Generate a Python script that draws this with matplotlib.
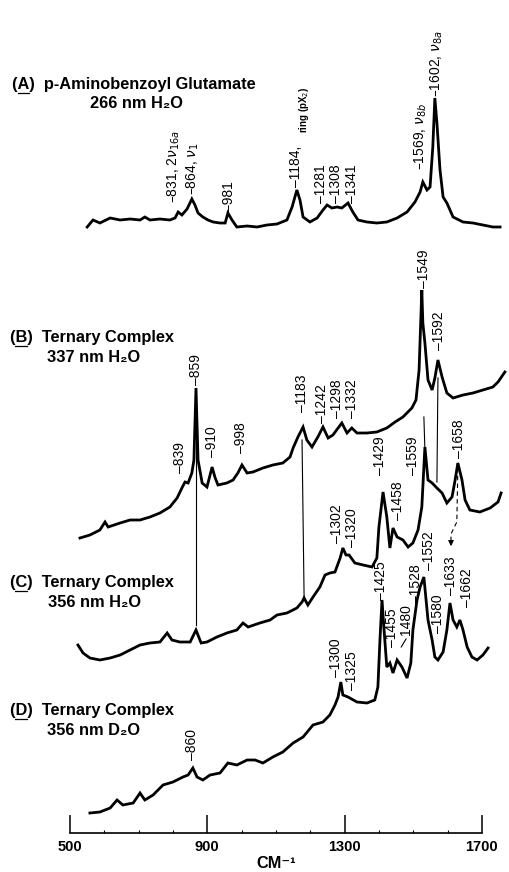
import matplotlib
matplotlib.use('Agg')
import matplotlib.pyplot as plt

# Resonance Raman spectra, wavenumber (cm-1) vs relative intensity
a_cm = [550, 567, 587, 617, 646, 675, 704, 718, 733, 762, 791, 806, 815, 826, 841, 855, 864, 873,
        887, 902, 917, 937, 952, 960, 972, 986, 1016, 1045, 1074, 1103, 1132, 1147, 1161, 1170,
        1179, 1199, 1220, 1237, 1249, 1263, 1278, 1292, 1310, 1324, 1339, 1365, 1394, 1423, 1453,
        1482, 1505, 1520, 1528, 1540, 1549, 1557, 1563, 1569, 1578, 1587, 1598, 1616, 1645, 1674,
        1703, 1732, 1753]
a_int = [0, 7, 4, 9, 7, 8, 7, 10, 7, 8, 7, 9, 15, 12, 18, 28, 22, 14,
         10, 7, 5, 4, 4, 14, 7, 0, 1, 0, 2, 3, 7, 20, 37, 27,
         10, 5, 9, 17, 22, 19, 20, 19, 24, 15, 7, 5, 4, 5, 9,
         15, 25, 35, 45, 37, 40, 80, 129, 104, 57, 30, 24, 10, 5, 4,
         2, 0, 0]

b_cm = [529, 558, 587, 602, 611, 646, 675, 704, 733, 762, 791, 812, 826, 835, 844, 855, 861, 867,
        873, 885, 899, 914, 922, 931, 957, 975, 989, 1001, 1016, 1033, 1062, 1091, 1120, 1141,
        1150, 1164, 1179, 1190, 1205, 1222, 1237, 1252, 1266, 1281, 1292, 1307, 1321, 1336, 1365,
        1394, 1423, 1447, 1470, 1496, 1508, 1517, 1525, 1528, 1534, 1543, 1555, 1563, 1572, 1584,
        1598, 1616, 1645, 1674, 1703, 1732, 1747, 1767]
b_int = [0, 3, 8, 16, 11, 15, 18, 18, 21, 25, 31, 40, 50, 56, 55, 65, 78, 150,
         78, 55, 51, 71, 61, 53, 55, 58, 65, 73, 65, 66, 70, 73, 75, 81,
         90, 101, 111, 98, 91, 101, 111, 100, 103, 110, 115, 105, 110, 105, 105,
         106, 110, 116, 121, 130, 138, 168, 248, 215, 195, 158, 148, 160, 178, 161,
         145, 140, 143, 145, 148, 151, 156, 166]

c_cm = [523, 538, 558, 587, 617, 646, 675, 704, 733, 762, 783, 797, 820, 850, 867, 882, 899, 928,
        957, 986, 1004, 1019, 1053, 1083, 1103, 1132, 1161, 1176, 1182, 1193, 1208, 1228, 1243,
        1257, 1272, 1287, 1295, 1304, 1313, 1330, 1354, 1380, 1394, 1400, 1412, 1423, 1432, 1441,
        1453, 1470, 1485, 1499, 1514, 1525, 1534, 1543, 1555, 1569, 1584, 1598, 1613, 1622, 1630,
        1642, 1651, 1665, 1694, 1724, 1747, 1756]
c_int = [15, 7, 2, 0, 2, 5, 10, 15, 17, 18, 27, 20, 18, 18, 30, 17, 18, 23,
         27, 30, 37, 33, 37, 40, 45, 47, 52, 58, 62, 55, 63, 73, 85,
         87, 88, 102, 112, 105, 105, 97, 95, 93, 102, 133, 168, 143, 112, 132,
         123, 120, 113, 117, 130, 153, 213, 180, 177, 172, 167, 157, 163, 180, 197,
         180, 160, 150, 148, 152, 158, 167]

d_cm = [558, 587, 617, 637, 654, 684, 704, 718, 742, 771, 800, 829, 844, 858, 870, 887, 908, 937,
        960, 986, 1016, 1039, 1062, 1091, 1120, 1150, 1179, 1208, 1237, 1257, 1272, 1281, 1289,
        1295, 1310, 1336, 1365, 1388, 1397, 1403, 1409, 1415, 1423, 1432, 1441, 1453, 1467, 1482,
        1493, 1499, 1511, 1520, 1531, 1543, 1555, 1563, 1572, 1587, 1598, 1607, 1616, 1627, 1636,
        1645, 1657, 1671, 1686, 1703, 1718]
d_int = [0, 1, 5, 13, 8, 10, 20, 13, 18, 28, 31, 36, 38, 45, 36, 33, 38, 40,
         50, 48, 53, 53, 50, 56, 61, 70, 76, 88, 91, 98, 108, 116, 131,
         118, 116, 111, 110, 113, 126, 173, 213, 183, 146, 150, 140, 153, 146, 135,
         150, 183, 213, 226, 236, 193, 173, 156, 153, 161, 183, 210, 193, 186, 193,
         183, 166, 156, 153, 158, 165]

# vertical stacking of the four traces
offsets = [606, 295, 173, 20]

titles = [("(A)  p-Aminobenzoyl Glutamate", "266 nm H\u2082O"),
          ("(B)  Ternary Complex", "337 nm H\u2082O"),
          ("(C)  Ternary Complex", "356 nm H\u2082O"),
          ("(D)  Ternary Complex", "356 nm D\u2082O")]
title_pos = [(331, 749, 558, 730), (325, 496, 433, 476), (325, 251, 436, 231), (325, 123, 433, 103)]

# peak labels: text, x (cm-1), y of label foot
peak_labels = [
    (r"–831, 2$\nu_{16a}$", 803, 630), (r"–864, $\nu_1$", 858, 638), ("–981", 963, 621),
    ("–1184,", 1158, 646), ("–1281", 1231, 630), ("–1308", 1275, 630), ("–1341", 1321, 630),
    (r"–1569, $\nu_{8b}$", 1522, 663), (r"–1602, $\nu_{8a}$", 1569, 736),
    ("–839", 820, 360), ("–859", 867, 448), ("–910", 914, 376), ("–998", 998, 380),
    ("–1183", 1176, 421), ("–1242", 1234, 410), ("–1298", 1277, 415), ("–1332", 1322, 415),
    ("–1549", 1531, 545), ("–1592", 1575, 483),
    ("–1302", 1278, 290), ("–1320", 1322, 286), ("–1429", 1403, 358), ("–1458", 1455, 313),
    ("–1559", 1499, 358), ("–1658", 1633, 375),
    ("–860", 855, 73), ("–1300", 1276, 156), ("–1325", 1323, 143), ("–1425", 1406, 233),
    ("–1455", 1437, 186), ("1480", 1479, 198), ("–1528", 1508, 230), ("–1552", 1546, 263),
    ("–1580", 1571, 200), ("–1633", 1610, 238), ("–1662", 1656, 226),
]

# thin lines tying peaks between spectra
ties = [([867, 867], [438, 208]), ([1176, 1182], [393, 236]),
        ([1531, 1534], [416, 383]), ([1572, 1569], [455, 351])]

fig = plt.figure(figsize=(5.09, 8.72), dpi=100)
ax = fig.add_axes([0, 39 / 872, 1, 833 / 872])
ax.set_xlim(296, 1779)
ax.set_ylim(0, 833)
ax.patch.set_alpha(0)

for xs, ys, off in zip([a_cm, b_cm, c_cm, d_cm], [a_int, b_int, c_int, d_int], offsets):
    ax.plot(xs, [v + off for v in ys], color='black', lw=2.0, solid_joinstyle='miter')

for xs, ys in ties:
    ax.plot(xs, ys, color='black', lw=0.8)

# H2O -> D2O shift of the 1658 band
ax.plot([1630, 1627, 1610, 1610], [365, 311, 299, 292], color='black', lw=0.8, ls=(0, (4, 3)))
ax.annotate('', xy=(1610, 284), xytext=(1610, 293),
            arrowprops=dict(arrowstyle='-|>', color='black', lw=0.8, mutation_scale=8))
ax.plot([1479, 1465], [194, 186], color='black', lw=0.8)

lfont = dict(family=['Liberation Sans', 'DejaVu Sans'], fontsize=10)
for txt, x, y in peak_labels:
    ax.text(x, y, txt, rotation=90, ha='center', va='bottom', **lfont)
ax.text(1182, 700, r"ring (pX$_2$)", rotation=90, ha='center', va='bottom', fontsize=7,
        family=['Liberation Sans', 'DejaVu Sans'], fontweight='bold')

tfont = dict(family=['Liberation Sans', 'DejaVu Sans'], fontweight='bold', fontsize=11.8)
for (t1, t2), (x1, y1, x2, y2) in zip(titles, title_pos):
    ax.text(x1, y1, t1, ha='left', va='center', **tfont)
    ax.text(x2, y2, t2, ha='left', va='center', **tfont)
    # underlined panel letter
    ax.plot([x1 + 16, x1 + 50], [y1 - 9, y1 - 9], color='black', lw=0.9)

for s in ['top', 'left', 'right']:
    ax.spines[s].set_visible(False)
ax.spines['bottom'].set_bounds(500, 1700)
ax.spines['bottom'].set_linewidth(1.2)
ax.yaxis.set_visible(False)
ax.set_xticks([500, 900, 1300, 1700])
ax.set_xticks([600, 700, 800, 1000, 1100, 1200, 1400, 1500, 1600], minor=True)
ax.tick_params(axis='x', which='major', direction='in', length=13, width=1.1, pad=5)
ax.tick_params(axis='x', which='minor', direction='in', length=2.5, width=0.8)
for lbl in ax.get_xticklabels():
    lbl.set_fontweight('bold')
    lbl.set_family(['Liberation Sans', 'DejaVu Sans'])
    lbl.set_fontsize(10.5)
ax.text(1100, -30, "CM\u207b\u00b9", ha='center', va='center', clip_on=False, **tfont)

fig.savefig('out.png', dpi=100)
